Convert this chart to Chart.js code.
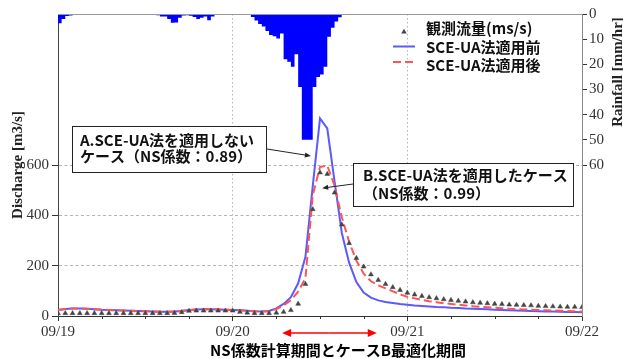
<!DOCTYPE html>
<html>
<head>
<meta charset="utf-8">
<script src="https://cdn.jsdelivr.net/npm/chart.js@4.4.1/dist/chart.umd.min.js"></script>
<style>
  html, body { margin: 0; padding: 0; background: #ffffff; }
  #wrap { width: 623px; height: 359px; }
</style>
</head>
<body>
<div id="wrap"><canvas id="chart" width="623" height="359"></canvas></div>
<script>
// Time axis: hours from 09/19 00:00, hourly discharge samples
const dayLabels = ['09/19', '09/20', '09/21', '09/22'];
const dischargeTicks = [0, 200, 400, 600];
const rainfallTicks = [0, 10, 20, 30, 40, 50, 60];
const hours = Array.from({ length: 73 }, (_, i) => i);

const seriesNames = ['観測流量(ms/s)', 'SCE-UA法適用前', 'SCE-UA法適用後'];

// Observed discharge [m3/s]
const observedFlow = [
  11, 11, 11, 11, 11, 11, 11, 11, 11, 11, 11, 11, 11, 11, 11, 11, 12, 15, 20, 21,
  21, 21, 21, 21, 21, 16, 13, 11, 11, 11, 13, 16, 23, 48, 127, 424, 570, 564, 490, 363,
  289, 230, 196, 165, 143, 127, 114, 103, 92, 85, 79, 74, 70, 66, 63, 60, 57, 54, 52, 50,
  48, 47, 45, 44, 43, 42, 40, 39, 38, 37, 36, 36, 35
];
// Simulated discharge before SCE-UA calibration [m3/s]
const flowBefore = [
  24, 28, 30, 30, 29, 27, 25, 24, 23, 22, 21, 20, 19, 18, 17, 17, 18, 20, 24, 26,
  27, 27, 26, 25, 24, 23, 21, 19, 18, 20, 30, 48, 75, 130, 235, 515, 785, 745, 535, 330,
  212, 135, 93, 73, 62, 56, 52, 48, 45, 42, 40, 38, 36, 35, 33, 32, 30, 29, 28, 27,
  25, 24, 23, 22, 21, 20, 19, 18, 18, 17, 16, 16, 15
];
// Simulated discharge after SCE-UA calibration [m3/s]
const flowAfter = [
  24, 28, 30, 30, 29, 27, 25, 24, 23, 22, 21, 20, 19, 18, 17, 17, 18, 20, 24, 26,
  27, 27, 26, 25, 24, 23, 21, 19, 18, 19, 28, 42, 63, 97, 150, 480, 592, 598, 518, 392,
  295, 220, 168, 138, 122, 110, 98, 86, 76, 70, 64, 59, 55, 51, 48, 45, 42, 39, 37, 35,
  33, 31, 29, 28, 26, 25, 24, 23, 22, 21, 20, 19, 18
];
// Rainfall [mm/hr], half-hour intervals from 09/19 00:00
const rainStepHours = 0.5;
const rainfall = [
  3.7, 2.0, 0.8, 0.6, 0.4, 0.4, 0.4, 0.4, 0.4, 0.4, 0.3, 0, 0, 0, 0, 0, 0, 0, 0, 0,
  0, 0, 0, 0, 0, 0, 0, 0.5, 1.0, 1.0, 2.0, 3.5, 3.4, 1.5, 0.6, 0.5, 0.7, 1.2, 2.0, 1.5,
  1.0, 2.5, 1.0, 0, 0, 0, 0, 0, 0, 0, 0, 0, 0.4, 1.2, 2.6, 4.0, 5.0, 6.8, 8.3, 8.8,
  9.7, 7.7, 18, 19, 21, 16, 29, 50, 50, 50, 29, 25, 24, 21, 9, 5.5, 3, 1.3
];
// Calibration / optimisation period [hours]
const calibPeriod = [30.8, 43.8];

const blueColor = '#5a5aff';
const redColor = '#ff5454';
const markColor = '#444444';
const gridColor = '#b4b4b4';
const serif = "'Liberation Serif', 'DejaVu Serif', serif";
const jp = "'Noto Sans CJK JP', 'Noto Sans', sans-serif";

// Hyetograph as a stepped outline: each value holds for its half-hour interval,
// closed back to zero at the end of the record.
const rainPoints = rainfall.map((v, i) => ({ x: i * rainStepHours, y: v }))
  .concat([{ x: rainfall.length * rainStepHours, y: 0 }]);

function drawArrowHead(ctx, x1, y1, x2, y2, len, wid) {
  const ang = Math.atan2(y2 - y1, x2 - x1);
  ctx.beginPath();
  ctx.moveTo(x2, y2);
  ctx.lineTo(x2 - len * Math.cos(ang) + (wid / 2) * Math.sin(ang), y2 - len * Math.sin(ang) - (wid / 2) * Math.cos(ang));
  ctx.lineTo(x2 - len * Math.cos(ang) - (wid / 2) * Math.sin(ang), y2 - len * Math.sin(ang) + (wid / 2) * Math.cos(ang));
  ctx.closePath();
  ctx.fill();
}

function drawArrow(ctx, x1, y1, x2, y2, color, lw, len, wid) {
  ctx.save();
  ctx.strokeStyle = color;
  ctx.fillStyle = color;
  ctx.lineWidth = lw;
  const ang = Math.atan2(y2 - y1, x2 - x1);
  ctx.beginPath();
  ctx.moveTo(x1, y1);
  ctx.lineTo(x2 - (len - 1) * Math.cos(ang), y2 - (len - 1) * Math.sin(ang));
  ctx.stroke();
  drawArrowHead(ctx, x1, y1, x2, y2, len, wid);
  ctx.restore();
}

function drawTriangle(ctx, cx, cy, r) {
  ctx.beginPath();
  ctx.moveTo(cx, cy - r);
  ctx.lineTo(cx + r * 0.866, cy + r * 0.5);
  ctx.lineTo(cx - r * 0.866, cy + r * 0.5);
  ctx.closePath();
  ctx.fill();
}

// Frame, minor ticks, legend, call-out boxes and extra titles
const decorations = {
  id: 'decorations',
  afterDatasetsDraw(chart) {
    const { ctx, chartArea: a, scales } = chart;
    const xs = scales.x, ys = scales.y;
    ctx.save();

    // top edge of the plot frame
    ctx.strokeStyle = '#999999';
    ctx.lineWidth = 1;
    ctx.beginPath();
    ctx.moveTo(a.left, a.top + 0.5);
    ctx.lineTo(a.right, a.top + 0.5);
    ctx.stroke();

    // minor ticks every 6 hours
    ctx.strokeStyle = '#333333';
    for (let h = 6; h < 72; h += 6) {
      if (h % 24 === 0) continue;
      const px = Math.round(xs.getPixelForValue(h)) + 0.5;
      ctx.beginPath();
      ctx.moveTo(px, a.bottom);
      ctx.lineTo(px, a.bottom + 3);
      ctx.stroke();
    }

    // legend
    ctx.font = 'bold 15px ' + jp;
    ctx.textBaseline = 'middle';
    ctx.textAlign = 'left';
    ctx.fillStyle = markColor;
    drawTriangle(ctx, 404, 32, 3.2);
    ctx.strokeStyle = blueColor;
    ctx.lineWidth = 2;
    ctx.beginPath(); ctx.moveTo(393, 46.5); ctx.lineTo(415, 46.5); ctx.stroke();
    ctx.strokeStyle = redColor;
    ctx.setLineDash([8, 4]);
    ctx.beginPath(); ctx.moveTo(393, 62); ctx.lineTo(415, 62); ctx.stroke();
    ctx.setLineDash([]);
    ctx.fillStyle = '#111111';
    ctx.fillText(seriesNames[0], 426, 28);
    ctx.fillText(seriesNames[1], 426, 47);
    ctx.fillText(seriesNames[2], 426, 65.5);

    // call-out A
    ctx.fillStyle = '#ffffff';
    ctx.fillRect(72, 126, 194, 46);
    ctx.strokeStyle = '#222222';
    ctx.lineWidth = 1;
    ctx.strokeRect(72.5, 126.5, 194, 46);
    ctx.fillStyle = '#111111';
    ctx.font = 'bold 15px ' + jp;
    ctx.fillText('A.SCE-UA法を適用しない', 80, 140.5);
    ctx.fillText('ケース（NS係数：0.89）', 80, 156.5);
    drawArrow(ctx, 267, 149, xs.getPixelForValue(34.75), ys.getPixelForValue(636), '#222222', 1, 6, 5);

    // call-out B
    ctx.fillStyle = '#ffffff';
    ctx.fillRect(353, 163, 220, 43);
    ctx.strokeStyle = '#222222';
    ctx.strokeRect(353.5, 163.5, 220, 43);
    ctx.fillStyle = '#111111';
    ctx.fillText('B.SCE-UA法を適用したケース', 363, 175.5);
    ctx.fillText('（NS係数：0.99）', 363, 193);
    drawArrow(ctx, 353, 184, xs.getPixelForValue(36.3), ys.getPixelForValue(508), '#222222', 1, 6, 5);

    // calibration period arrow below the axis
    const p1 = xs.getPixelForValue(calibPeriod[0]);
    const p2 = xs.getPixelForValue(calibPeriod[1]);
    const mid = (p1 + p2) / 2;
    drawArrow(ctx, mid, 333, p1, 333, '#ff0000', 1.5, 9, 8);
    drawArrow(ctx, mid, 333, p2, 333, '#ff0000', 1.5, 9, 8);

    // bottom title
    ctx.fillStyle = '#000000';
    ctx.font = 'bold 15px ' + jp;
    ctx.textAlign = 'center';
    ctx.fillText('NS係数計算期間とケースB最適化期間', 338, 350);

    // rainfall axis title
    ctx.save();
    ctx.translate(622, 72);
    ctx.rotate(-Math.PI / 2);
    ctx.font = 'bold 15px ' + serif;
    ctx.fillStyle = '#222222';
    ctx.textAlign = 'center';
    ctx.textBaseline = 'alphabetic';
    ctx.fillText('Rainfall [mm/hr]', 0, 0);
    ctx.restore();

    ctx.restore();
  }
};

const ctx = document.getElementById('chart').getContext('2d');
new Chart(ctx, {
  type: 'line',
  data: {
    datasets: [
      {
        type: 'line',
        label: seriesNames[0],
        data: hours.map((h, i) => ({ x: h, y: observedFlow[i] })),
        yAxisID: 'y',
        showLine: false,
        pointStyle: 'triangle',
        pointRadius: 2.8,
        pointBackgroundColor: markColor,
        pointBorderColor: markColor,
        pointBorderWidth: 0.5,
        order: 1
      },
      {
        type: 'line',
        label: seriesNames[1],
        data: hours.map((h, i) => ({ x: h, y: flowBefore[i] })),
        yAxisID: 'y',
        borderColor: blueColor,
        borderWidth: 2,
        pointRadius: 0,
        tension: 0,
        fill: false,
        order: 3
      },
      {
        type: 'line',
        label: seriesNames[2],
        data: hours.map((h, i) => ({ x: h, y: flowAfter[i] })),
        yAxisID: 'y',
        borderColor: redColor,
        borderWidth: 2,
        borderDash: [8, 4],
        pointRadius: 0,
        tension: 0,
        fill: false,
        order: 2
      },
      {
        type: 'line',
        label: 'Rainfall',
        data: rainPoints,
        yAxisID: 'y2',
        stepped: 'before',
        fill: 'origin',
        backgroundColor: '#0000ff',
        borderColor: '#0000ff',
        borderWidth: 0,
        pointRadius: 0,
        tension: 0,
        order: 10
      }
    ]
  },
  options: {
    responsive: false,
    animation: false,
    devicePixelRatio: 1,
    events: [],
    layout: { padding: { top: 14, left: 0, right: 0, bottom: 0 } },
    plugins: {
      legend: { display: false },
      tooltip: { enabled: false },
      filler: { propagate: false }
    },
    scales: {
      x: {
        type: 'linear',
        min: 0,
        max: 72,
        offset: false,
        afterBuildTicks: (s) => { s.ticks = Array.from({ length: 13 }, (_, i) => ({ value: i * 6 })); },
        afterFit: (s) => { s.height = 43; },
        ticks: {
          autoSkip: false,
          maxRotation: 0,
          padding: 2,
          color: '#333333',
          font: { family: serif, size: 15 },
          callback: (v) => (v % 24 === 0 ? dayLabels[v / 24] : '')
        },
        grid: {
          offset: false,
          color: (c) => (c.tick && c.tick.value % 24 === 0 && c.tick.value > 0 && c.tick.value < 72 ? gridColor : 'rgba(0,0,0,0)'),
          tickColor: (c) => (c.tick && c.tick.value % 24 === 0 ? '#333333' : 'rgba(0,0,0,0)'),
          tickLength: 5,
          lineWidth: 1
        },
        border: { display: true, color: '#333333', width: 1, dash: [1.5, 2.5] }
      },
      y: {
        type: 'linear',
        position: 'left',
        min: 0,
        max: 1200,
        afterBuildTicks: (s) => { s.ticks = dischargeTicks.map((v) => ({ value: v })); },
        afterFit: (s) => { s.width = 58; },
        ticks: {
          padding: 3,
          color: '#333333',
          font: { family: serif, size: 15 }
        },
        grid: {
          color: (c) => (c.tick && c.tick.value > 0 ? gridColor : 'rgba(0,0,0,0)'),
          tickColor: '#333333',
          tickLength: 6,
          lineWidth: 1
        },
        border: { display: true, color: '#444444', width: 1, dash: [3, 2.5] },
        title: {
          display: true,
          text: 'Discharge [m3/s]',
          color: '#222222',
          font: { family: serif, size: 15, weight: 'bold' },
          padding: { top: 9, bottom: 0 }
        }
      },
      y2: {
        type: 'linear',
        position: 'right',
        reverse: true,
        min: 0,
        max: 120,
        afterBuildTicks: (s) => { s.ticks = rainfallTicks.map((v) => ({ value: v })); },
        afterFit: (s) => { s.width = 41; },
        ticks: {
          padding: 2,
          color: '#333333',
          font: { family: serif, size: 15 }
        },
        grid: {
          drawOnChartArea: false,
          tickColor: '#333333',
          tickLength: 5
        },
        border: { display: true, color: '#888888', width: 1 }
      }
    }
  },
  plugins: [decorations]
});
</script>
</body>
</html>
